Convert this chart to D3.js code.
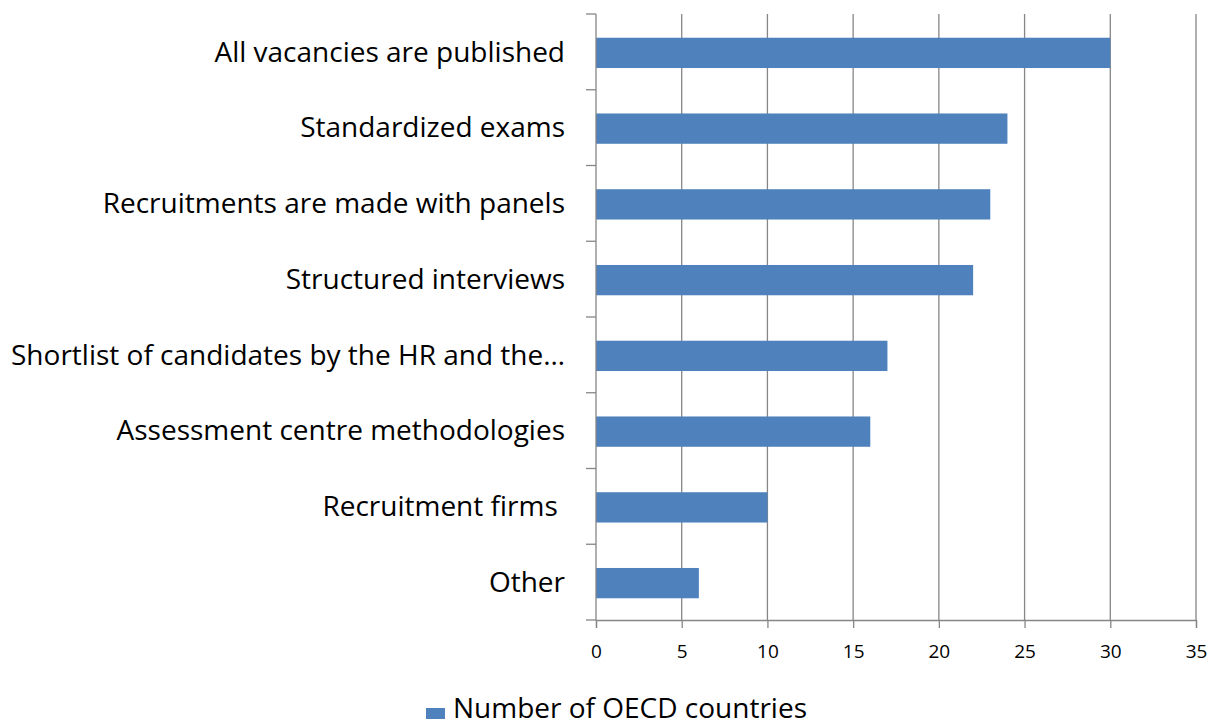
<!DOCTYPE html>
<html lang="en">
<head>
  <meta charset="UTF-8">
  <title>Recruitment practices</title>
  <script src="https://d3js.org/d3.v7.min.js"></script>
  <style>
    body { margin: 0; background: #fff; }
    svg { display: block; font-family: "Open Sans", sans-serif; }
    .cat { white-space: pre; }
  </style>
</head>
<body>
  <div id="chart"></div>
  <script>
    const categories = [
      "All vacancies are published",
      "Standardized exams",
      "Recruitments are made with panels",
      "Structured interviews",
      "Shortlist of candidates by the HR and the\u2026",
      "Assessment centre methodologies",
      "Recruitment firms ",
      "Other"
    ];
    const values = [30, 24, 23, 22, 17, 16, 10, 6];
    const xTicks = [0, 5, 10, 15, 20, 25, 30, 35];
    const seriesName = "Number of OECD countries";

    const width = 1210, height = 719;
    const margin = { top: 14, right: 14, bottom: 99, left: 596 };
    const barColor = "#4f81bd";
    const gridColor = "#868686";

    const svg = d3.select("#chart").append("svg")
      .attr("width", width)
      .attr("height", height);

    const x = d3.scaleLinear()
      .domain([0, 35])
      .range([margin.left, width - margin.right]);

    const y = d3.scaleBand()
      .domain(categories)
      .range([margin.top, height - margin.bottom]);

    // vertical gridlines
    svg.append("g")
      .selectAll("line")
      .data(xTicks.slice(1))
      .join("line")
      .attr("x1", d => x(d)).attr("x2", d => x(d))
      .attr("y1", margin.top).attr("y2", height - margin.bottom)
      .attr("stroke", gridColor)
      .attr("stroke-width", 1.3);

    // bars
    const barH = y.bandwidth() * 0.4;
    svg.append("g")
      .selectAll("rect")
      .data(values)
      .join("rect")
      .attr("x", x(0))
      .attr("y", (d, i) => y(categories[i]) + (y.bandwidth() - barH) / 2 + 1)
      .attr("width", d => x(d) - x(0))
      .attr("height", barH)
      .attr("fill", barColor);

    // y axis (category boundaries as ticks)
    const yAxis = svg.append("g");
    yAxis.append("line")
      .attr("x1", x(0)).attr("x2", x(0))
      .attr("y1", margin.top).attr("y2", height - margin.bottom)
      .attr("stroke", gridColor).attr("stroke-width", 1.3);
    const bounds = categories.map(c => y(c)).concat([y.range()[1]]);
    yAxis.selectAll("line.tk")
      .data(bounds)
      .join("line")
      .attr("class", "tk")
      .attr("x1", x(0) - 10).attr("x2", x(0))
      .attr("y1", d => d).attr("y2", d => d)
      .attr("stroke", gridColor).attr("stroke-width", 1.3);

    yAxis.selectAll("text")
      .data(categories)
      .join("text")
      .attr("class", "cat")
      .attr("x", x(0) - 31)
      .attr("y", d => y(d) + y.bandwidth() / 2)
      .attr("dy", "0.35em")
      .attr("text-anchor", "end")
      .attr("font-size", 28)
      .attr("fill", "#000")
      .text(d => d);

    // x axis
    const xAxis = svg.append("g")
      .attr("transform", `translate(0,${height - margin.bottom})`)
      .call(d3.axisBottom(x).tickValues(xTicks).tickSize(8).tickPadding(17));
    xAxis.select(".domain").attr("stroke", gridColor).attr("stroke-width", 1.3);
    xAxis.selectAll(".tick line").attr("stroke", gridColor).attr("stroke-width", 1.3);
    xAxis.selectAll(".tick text")
      .attr("font-family", "Open Sans, sans-serif")
      .attr("font-size", 19)
      .attr("fill", "#000");

    // legend (sits at the bottom edge, partly cut off as in the original)
    const legend = svg.append("g")
      .attr("transform", `translate(426,708)`);
    legend.append("rect")
      .attr("width", 19).attr("height", 19)
      .attr("fill", barColor);
    legend.append("text")
      .attr("x", 27).attr("y", 10)
      .attr("font-size", 28)
      .attr("fill", "#000")
      .text(seriesName);
  </script>
</body>
</html>
